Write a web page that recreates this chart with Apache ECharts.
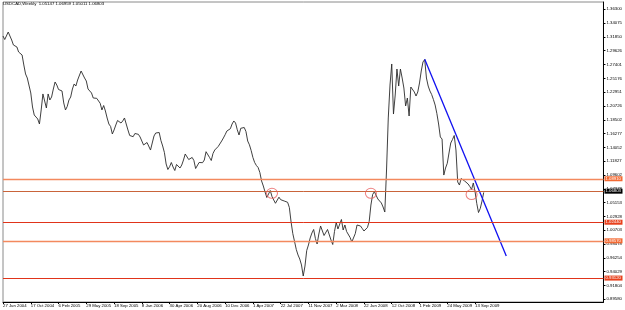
<!DOCTYPE html>
<html>
<head>
<meta charset="utf-8">
<title>USDCAD Weekly</title>
<style>
  html, body { margin: 0; padding: 0; background: #fff; }
  #chart { width: 625px; height: 310px; }
</style>
<script src="https://cdn.jsdelivr.net/npm/echarts@6/dist/echarts.min.js"></script>
</head>
<body>
<div id="chart"></div>
<script>
// weekly closes, first bar = 27 Jun 2004
const closes = [
  1.3200, 1.3143, 1.3160, 1.3264, 1.3248, 1.3135, 1.3055, 1.3071, 1.3023, 1.2942,
  1.2942, 1.2894, 1.2733, 1.2588, 1.2523, 1.2491, 1.2282, 1.2056, 1.1927, 1.1919,
  1.1863, 1.1782, 1.2008, 1.2266, 1.2290, 1.2040, 1.2266, 1.2169, 1.2217, 1.2346,
  1.2459, 1.2410, 1.2338, 1.2354, 1.2314, 1.2121, 1.2008, 1.2064, 1.2169, 1.2217,
  1.2346, 1.2427, 1.2394, 1.2491, 1.2523, 1.2636, 1.2612, 1.2523, 1.2475, 1.2346,
  1.2362, 1.2282, 1.2201, 1.2193, 1.2196, 1.2222, 1.2116, 1.2008, 1.2080, 1.1992,
  1.1879, 1.1782, 1.1742, 1.1621, 1.1686, 1.1766, 1.1839, 1.1855, 1.1798, 1.1831,
  1.1879, 1.1887, 1.1686, 1.1597, 1.1578, 1.1578, 1.1629, 1.1642, 1.1616, 1.1573,
  1.1508, 1.1444, 1.1452, 1.1484, 1.1484, 1.1363, 1.1476, 1.1589, 1.1637, 1.1661,
  1.1645, 1.1516, 1.1428, 1.1323, 1.1138, 1.1049, 1.1094, 1.1162, 1.1089, 1.1033,
  1.1130, 1.1146, 1.1073, 1.1122, 1.1202, 1.1299, 1.1307, 1.1210, 1.1226, 1.1243,
  1.1194, 1.1065, 1.1078, 1.1162, 1.1175, 1.1159, 1.1202, 1.1336, 1.1304, 1.1243,
  1.1194, 1.1307, 1.1363, 1.1387, 1.1420, 1.1436, 1.1508, 1.1557, 1.1610, 1.1669,
  1.1686, 1.1706, 1.1782, 1.1831, 1.1798, 1.1689, 1.1605, 1.1713, 1.1737, 1.1726,
  1.1661, 1.1508, 1.1447, 1.1355, 1.1243, 1.1162, 1.1114, 1.1081, 1.1001, 1.0864,
  1.0783, 1.0687, 1.0598, 1.0654, 1.0711, 1.0614, 1.0558, 1.0505, 1.0526, 1.0603,
  1.0563, 1.0574, 1.0542, 1.0550, 1.0521, 1.0437, 1.0203, 1.0015, 0.9889, 0.9760,
  0.9672, 0.9607, 0.9511, 0.9333, 0.9494, 0.9744, 0.9833, 0.9946, 1.0026, 1.0083,
  0.9938, 0.9849, 1.0010, 1.0139, 1.0139, 0.9986, 0.9954, 1.0083, 1.0107, 0.9913,
  0.9841, 1.0050, 1.0195, 1.0091, 1.0123, 1.0244, 1.0075, 1.0155, 1.0050, 1.0058,
  0.9954, 0.9881, 0.9889, 1.0018, 1.0155, 1.0187, 1.0139, 1.0099, 1.0058, 1.0066,
  1.0115, 1.0211, 1.0477, 1.0646, 1.0692, 1.0666, 1.0574, 1.0598, 1.0510, 1.0445,
  1.0364, 1.1041, 1.1879, 1.2410, 1.2749, 1.1943, 1.2249, 1.2668, 1.2394, 1.2668,
  1.2523, 1.2362, 1.2072, 1.2201, 1.1911, 1.2378, 1.2357, 1.2298, 1.2233, 1.2298,
  1.2443, 1.2636, 1.2781, 1.2821, 1.2523, 1.2394, 1.2314, 1.2257, 1.2177, 1.2088,
  1.1951, 1.1782, 1.1573, 1.1540, 1.0960, 1.1073, 1.1149, 1.1315, 1.1476, 1.1532,
  1.1597, 1.1363, 1.0848, 1.0799, 1.0904, 1.0888, 1.0864, 1.0856, 1.0816, 1.0775,
  1.0727, 1.0832, 1.0695, 1.0501, 1.0356, 1.0421, 1.0540, 1.0680
];

const yTickLabels = [
  '1.36300', '1.34075', '1.31850', '1.29626', '1.27401', '1.25176', '1.22951', '1.20726',
  '1.18502', '1.16277', '1.14052', '1.11827', '1.09602', '1.07378', '1.05153', '1.02928',
  '1.00703', '0.98478', '0.96254', '0.94029', '0.91804', '0.89580'
];

// horizontal levels drawn on the chart
const levelsLight = [1.0891, 0.9857];
const levelsDark = [1.0244, 0.9312];
const levelMid = 1.0666;
const lastPrice = 1.06803;

// blue trend line: [week index, price]
const trendLine = [[243, 1.2824], [290, 0.9656]];
// red circles
const circleMarks = [[155, 1.0666], [212, 1.0666], [270, 1.0646]];

const titleText = 'USDCAD,Weekly  1.05147 1.06959 1.05011 1.06803';

// week categories (more than the data, the chart has empty space on the right)
const weekCount = 347;
const monthNames = ['Jan','Feb','Mar','Apr','May','Jun','Jul','Aug','Sep','Oct','Nov','Dec'];
const weeks = [];
for (let i = 0; i < weekCount; i++) {
  const d = new Date(Date.UTC(2004, 5, 27 + i * 7));
  weeks.push(d.getUTCDate() + ' ' + monthNames[d.getUTCMonth()] + ' ' + d.getUTCFullYear());
}

const font = 'Liberation Sans';
const fs = 4.3;
const showWeek = (i) => i % 16 === 0 && i < closes.length;

const levelLine = (value, color, width, bg, showLabel, textColor) => ({
  yAxis: value,
  lineStyle: { color: color, width: width, type: 'solid' },
  label: {
    show: showLabel,
    position: 'end',
    distance: 1,
    formatter: () => value.toFixed(5),
    backgroundColor: bg,
    color: textColor || '#fff',
    fontSize: fs,
    fontFamily: font,
    padding: [0.5, 1.5, 0.5, 1]
  }
});

const chart = echarts.init(document.getElementById('chart'));
chart.setOption({
  animation: false,
  backgroundColor: '#fff',
  title: {
    text: titleText,
    left: 3, top: 2, padding: 0,
    textStyle: { fontSize: fs, fontWeight: 'normal', color: '#000', fontFamily: font }
  },
  grid: {
    left: 2, right: 18, top: 2, bottom: 8,
    show: true, borderColor: '#8a8a8a', borderWidth: 1, backgroundColor: '#fff'
  },
  xAxis: {
    type: 'category',
    data: weeks,
    boundaryGap: false,
    axisLine: { lineStyle: { color: '#000', width: 1 } },
    axisTick: { interval: showWeek, length: 2, lineStyle: { color: '#000' } },
    axisLabel: {
      interval: showWeek, align: 'left', margin: 1.5,
      fontSize: fs, color: '#000', fontFamily: font
    },
    splitLine: { show: false }
  },
  yAxis: {
    type: 'value',
    position: 'right',
    min: 0.89146,
    max: 1.37476,
    axisLine: { show: true, lineStyle: { color: '#000', width: 1 } },
    axisTick: { show: true, length: 2, customValues: yTickLabels.map(Number), lineStyle: { color: '#000' } },
    axisLabel: {
      customValues: yTickLabels.map(Number),
      formatter: (v) => v.toFixed(5),
      margin: 3, fontSize: fs, color: '#000', fontFamily: font
    },
    splitLine: { show: false }
  },
  series: [
    {
      type: 'line',
      data: closes,
      symbol: 'none',
      lineStyle: { color: '#2a2a2a', width: 0.9 },
      z: 3,
      markLine: {
        silent: true,
        symbol: ['none', 'none'],
        data: [
          levelLine(levelsLight[0], '#f3895e', 1.4, '#f36a33', true),
          levelLine(levelsLight[1], '#f3895e', 1.4, '#f36a33', true),
          levelLine(levelsDark[0], '#e0341a', 1, '#e8401c', true),
          levelLine(levelsDark[1], '#e0341a', 1, '#e8401c', true),
          levelLine(levelMid, '#c9643a', 1, '#c9643a', false),
          {
            yAxis: lastPrice,
            lineStyle: { color: 'rgba(0,0,0,0)', width: 1 },
            label: {
              show: true, position: 'end', distance: 1,
              formatter: () => lastPrice.toFixed(5),
              backgroundColor: '#000', color: '#fff',
              fontSize: fs, fontFamily: font, padding: [0.5, 1.5, 0.5, 1]
            }
          }
        ]
      }
    },
    {
      type: 'line',
      data: trendLine,
      symbol: 'none',
      lineStyle: { color: '#1010f0', width: 1.3 },
      z: 4
    },
    {
      type: 'scatter',
      data: circleMarks,
      symbol: 'circle',
      symbolSize: [11, 10],
      itemStyle: { color: 'rgba(0,0,0,0)', borderColor: '#e86060', borderWidth: 1 },
      z: 5
    }
  ]
});
</script>
</body>
</html>
